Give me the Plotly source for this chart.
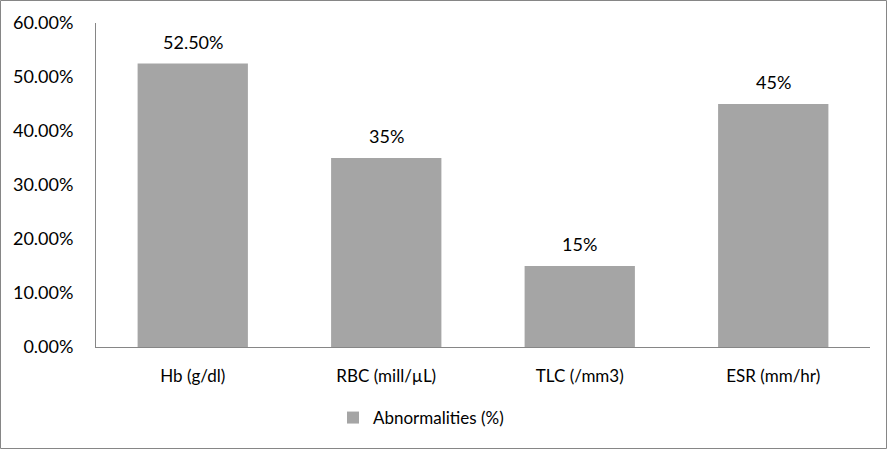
import plotly.graph_objects as go

categories = ["Hb (g/dl)", "RBC (mill/µL)", "TLC (/mm3)", "ESR (mm/hr)"]
values = [0.525, 0.35, 0.15, 0.45]
labels = ["52.50%", "35%", "15%", "45%"]
series_name = "Abnormalities (%)"
y_ticks = [0, 0.1, 0.2, 0.3, 0.4, 0.5, 0.6]

W, H = 888, 450
ml, mr, mt, mb = 96, 18, 23, 103
pw, ph = W - ml - mr, H - mt - mb
FONT = "Lato, Open Sans, sans-serif"

fig = go.Figure(go.Bar(
    x=categories, y=values, name=series_name,
    marker=dict(color="#A5A5A5", line=dict(width=0)),
    width=0.57, showlegend=True, hoverinfo="skip",
))

annotations = [
    dict(x=c, y=v, text=t, xref="x", yref="y", showarrow=False,
         yanchor="bottom", yshift=9, font=dict(size=18, color="#000000"))
    for c, v, t in zip(categories, values, labels)
]

fig.update_layout(
    width=W, height=H,
    margin=dict(l=ml, r=mr, t=mt, b=mb),
    paper_bgcolor="white", plot_bgcolor="white",
    font=dict(family=FONT, size=17, color="#000000"),
    showlegend=True,
    legend=dict(orientation="h", x=(333 - ml) / pw, xanchor="left",
                y=(347 - 418) / ph, yanchor="middle",
                font=dict(size=17), itemwidth=30),
    xaxis=dict(showline=True, linecolor="#868686", linewidth=1, ticks="",
               showgrid=False, tickfont=dict(size=17), ticklabelstandoff=14),
    yaxis=dict(range=[0, 0.6], tickvals=y_ticks, tickformat=".2%",
               showline=True, linecolor="#868686", linewidth=1, ticks="",
               showgrid=False, zeroline=False, tickfont=dict(size=18),
               ticklabelstandoff=18),
    annotations=annotations,
    shapes=[dict(type="rect", xref="paper", yref="paper",
                 x0=(-ml + 0.5) / pw, x1=1 + (mr - 1.5) / pw,
                 y0=(-mb + 1.5) / ph, y1=1 + (mt - 0.5) / ph,
                 line=dict(color="#868686", width=1))],
)

fig.write_html("out.html", config={"displayModeBar": False},
               post_script="document.body.style.margin='0';")
